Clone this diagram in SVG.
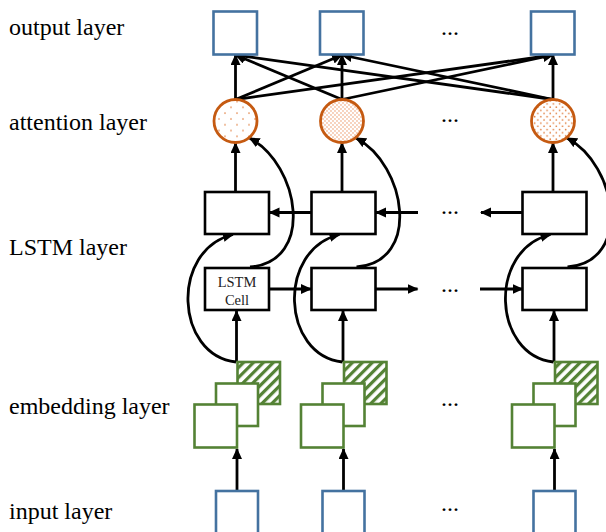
<svg xmlns="http://www.w3.org/2000/svg" width="606" height="532" viewBox="0 0 606 532">
<style>
.lbl{font-family:"Liberation Serif","Times New Roman",serif;font-size:24px;fill:#000}
.dots{font-family:"Liberation Serif","Times New Roman",serif;font-size:24px;fill:#000;text-anchor:middle}
.cell{font-family:"Liberation Serif","Times New Roman",serif;font-size:14.5px;fill:#222;text-anchor:middle}
.io{fill:#fff;stroke:#4472A0;stroke-width:2.6}
.lstm{fill:#fff;stroke:#000;stroke-width:2.6}
.emb{fill:#fff;stroke:#548235;stroke-width:2.6}
.emb.hatched{fill:url(#hatch)}
.att{stroke:#C55A11;stroke-width:2.8}
.ln{fill:none;stroke:#000;stroke-width:2.8;marker-end:url(#ah)}
</style>
<defs>
<marker id="ah" markerUnits="userSpaceOnUse" markerWidth="12" markerHeight="12" refX="10" refY="5" orient="auto">
<path d="M0,0 L11,5 L0,10 z" fill="#000"/>
</marker>
<pattern id="dotS" patternUnits="userSpaceOnUse" width="12" height="11.6">
<rect width="12" height="11.6" fill="#fff"/>
<circle cx="3" cy="3" r="0.8" fill="#E07B3A"/>
<circle cx="9" cy="8.8" r="0.8" fill="#E07B3A"/>
</pattern>
<pattern id="dotD" patternUnits="userSpaceOnUse" width="4" height="4">
<rect width="4" height="4" fill="#fff"/>
<circle cx="1" cy="1" r="0.65" fill="#E8844A"/>
<circle cx="3" cy="3" r="0.65" fill="#E8844A"/>
</pattern>
<pattern id="dotM" patternUnits="userSpaceOnUse" width="6.2" height="6.4">
<rect width="6.2" height="6.4" fill="#fff"/>
<circle cx="1.5" cy="1.5" r="0.8" fill="#E07B3A"/>
<circle cx="4.6" cy="4.7" r="0.8" fill="#E07B3A"/>
</pattern>
<pattern id="hatch" patternUnits="userSpaceOnUse" width="7" height="7" patternTransform="rotate(45)">
<rect width="7" height="7" fill="#fff"/>
<rect x="0" y="0" width="3.2" height="7" fill="#548235"/>
</pattern>
</defs>

<g id="labels">
<text class="lbl" x="9" y="35">output layer</text>
<text class="lbl" x="9" y="130">attention layer</text>
<text class="lbl" x="9" y="255">LSTM layer</text>
<text class="lbl" x="9" y="414">embedding layer</text>
<text class="lbl" x="9" y="519">input layer</text>
</g>

<g id="ellipses">
<text class="dots" x="450" y="35">...</text>
<text class="dots" x="450" y="122">...</text>
<text class="dots" x="450" y="214">...</text>
<text class="dots" x="450" y="292">...</text>
<text class="dots" x="450" y="406">...</text>
<text class="dots" x="450" y="511">...</text>
</g>

<g id="connectors">
<line class="ln" x1="235.5" y1="99.5" x2="235.5" y2="55"/>
<line class="ln" x1="342" y1="99.5" x2="342" y2="55"/>
<line class="ln" x1="553" y1="99.5" x2="553" y2="55"/>
<line class="ln" x1="235.5" y1="99.5" x2="342" y2="55"/>
<line class="ln" x1="235.5" y1="99.5" x2="553" y2="55"/>
<line class="ln" x1="342" y1="99.5" x2="235.5" y2="55"/>
<line class="ln" x1="342" y1="99.5" x2="553" y2="55"/>
<line class="ln" x1="553" y1="99.5" x2="235.5" y2="55"/>
<line class="ln" x1="553" y1="99.5" x2="342" y2="55"/>
<line class="ln" x1="235.5" y1="192" x2="235.5" y2="143"/>
<line class="ln" x1="342" y1="192" x2="342" y2="143"/>
<line class="ln" x1="553" y1="192" x2="553" y2="143"/>
<line class="ln" x1="311.5" y1="212.5" x2="269.5" y2="212.5"/>
<line class="ln" x1="418" y1="212.5" x2="376" y2="212.5"/>
<line class="ln" x1="522.5" y1="212.5" x2="481" y2="212.5"/>
<line class="ln" x1="269" y1="289" x2="311" y2="289"/>
<line class="ln" x1="375.5" y1="289" x2="417.5" y2="289"/>
<line class="ln" x1="480" y1="289" x2="522.5" y2="289"/>
<line class="ln" x1="236.5" y1="362" x2="236.5" y2="311"/>
<line class="ln" x1="343" y1="362" x2="343" y2="311"/>
<line class="ln" x1="554" y1="362" x2="554" y2="311"/>
<line class="ln" x1="237" y1="491" x2="237" y2="449"/>
<line class="ln" x1="343.5" y1="491" x2="343.5" y2="449"/>
<line class="ln" x1="554.5" y1="491" x2="554.5" y2="449"/>
<path class="ln" d="M236,362 C175,355 170,250 233,234.5"/>
<path class="ln" d="M342.5,362 C281.5,355 276.5,250 339.5,234.5"/>
<path class="ln" d="M553.5,362 C492.5,355 487.5,250 550.5,234.5"/>
<path class="ln" d="M250,267 C315,262 300,165 249.5,138"/>
<path class="ln" d="M356.5,267 C421.5,262 406.5,165 356,138"/>
<path class="ln" d="M567.5,267 C632.5,262 617.5,165 567,138"/>
</g>

<g id="col1">
<g id="output1"><rect class="io" x="213.5" y="11.5" width="43.5" height="43"/></g>
<g id="attention1"><circle class="att" cx="235.5" cy="121" r="21.5" fill="url(#dotS)"/></g>
<g id="lstm_bwd1"><rect class="lstm" x="205" y="192" width="64" height="42"/></g>
<g id="lstm_fwd1"><rect class="lstm" x="205" y="268" width="64" height="42"/>
<text class="cell" x="237" y="287">LSTM</text><text class="cell" x="237" y="304.5">Cell</text></g>
<g id="embedding1">
<rect class="emb hatched" x="237.5" y="362" width="42.5" height="42"/>
<rect class="emb" x="216" y="383.5" width="42" height="42.5"/>
<rect class="emb" x="194.5" y="404.5" width="42.5" height="43"/>
</g>
<g id="input1"><rect class="io" x="216" y="491" width="42" height="50"/></g>
</g>

<g id="col2">
<g id="output2"><rect class="io" x="320" y="11.5" width="43.5" height="43"/></g>
<g id="attention2"><circle class="att" cx="342" cy="121" r="21.5" fill="url(#dotD)"/></g>
<g id="lstm_bwd2"><rect class="lstm" x="311.5" y="192" width="64" height="42"/></g>
<g id="lstm_fwd2"><rect class="lstm" x="311.5" y="268" width="64" height="42"/></g>
<g id="embedding2">
<rect class="emb hatched" x="344" y="362" width="42.5" height="42"/>
<rect class="emb" x="322.5" y="383.5" width="42" height="42.5"/>
<rect class="emb" x="301" y="404.5" width="42.5" height="43"/>
</g>
<g id="input2"><rect class="io" x="322.5" y="491" width="42" height="50"/></g>
</g>

<g id="col3">
<g id="output3"><rect class="io" x="531" y="11.5" width="43.5" height="43"/></g>
<g id="attention3"><circle class="att" cx="553" cy="121" r="21.5" fill="url(#dotM)"/></g>
<g id="lstm_bwd3"><rect class="lstm" x="522.5" y="192" width="64" height="42"/></g>
<g id="lstm_fwd3"><rect class="lstm" x="522.5" y="268" width="64" height="42"/></g>
<g id="embedding3">
<rect class="emb hatched" x="555" y="362" width="42.5" height="42"/>
<rect class="emb" x="533.5" y="383.5" width="42" height="42.5"/>
<rect class="emb" x="512" y="404.5" width="42.5" height="43"/>
</g>
<g id="input3"><rect class="io" x="533.5" y="491" width="42" height="50"/></g>
</g>
</svg>
